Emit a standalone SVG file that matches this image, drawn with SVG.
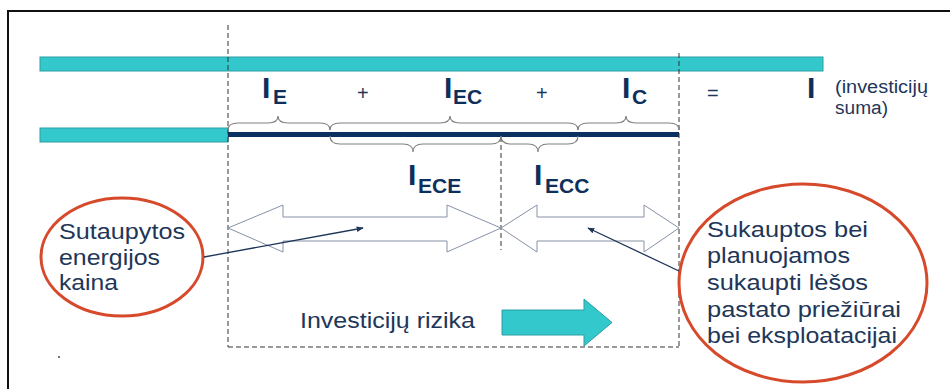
<svg xmlns="http://www.w3.org/2000/svg" width="950" height="389" viewBox="0 0 950 389">
<style>
.bar{fill:#33c8cc;stroke:#2c9ea3;stroke-width:1}
.dash{fill:none;stroke:#333;stroke-width:1;stroke-dasharray:5,3}
.brace{fill:none;stroke:#808080;stroke-width:1.2}
.big{font-family:"Liberation Sans",Arial,sans-serif;font-weight:bold;fill:#0d2f5c}
.body{font-family:"Liberation Sans",Arial,sans-serif;font-size:22px;fill:#1e3658}
.op{font-family:"Liberation Sans",Arial,sans-serif;font-size:20px;fill:#1e3658}
.darrow{fill:#fff;stroke:#8592a6;stroke-width:1}
.ell{fill:#fff;stroke:#d64a2b;stroke-width:3}
.ptr{fill:none;stroke:#1e3658;stroke-width:1.3;marker-end:url(#ah)}
</style>
<defs>
<marker id="ah" viewBox="0 0 10 10" refX="9" refY="5" markerWidth="7" markerHeight="7" markerUnits="userSpaceOnUse" orient="auto">
<path d="M0,1 L10,5 L0,9 Z" fill="#1e3658"/>
</marker>
</defs>
<rect x="0" y="0" width="950" height="389" fill="#fff"/>
<path d="M8,389 V11 H950" fill="none" stroke="#111" stroke-width="2"/>

<g id="bars">
<rect class="bar" x="40" y="57" width="783" height="14"/>
<rect class="bar" x="40" y="128" width="188" height="14"/>
<rect x="228" y="132" width="451" height="5" fill="#0b3160"/>
</g>

<g id="guides">
<line class="dash" x1="228" y1="25" x2="228" y2="347"/>
<line class="dash" x1="679" y1="53" x2="679" y2="347"/>
<line class="dash" x1="501" y1="137" x2="501" y2="250"/>
<line class="dash" x1="228" y1="347" x2="679" y2="347"/>
</g>

<g id="braces">
<path class="brace" d="M228,130 Q228,123 238,123 H268 Q278,123 278,116 Q278,123 288,123 H320 Q330,123 330,130"/>
<path class="brace" d="M330,130 Q330,123 340,123 H440 Q450,123 450,116 Q450,123 460,123 H568 Q578,123 578,130"/>
<path class="brace" d="M578,130 Q578,123 588,123 H616 Q626,123 626,116 Q626,123 636,123 H669 Q679,123 679,130"/>
<path class="brace" d="M330,136 Q330,144 340,144 H403 Q413,144 413,152 Q413,144 423,144 H491 Q501,144 501,136"/>
<path class="brace" d="M501,136 Q501,144 511,144 H528 Q538,144 538,152 Q538,144 548,144 H568 Q578,144 578,136"/>
</g>

<g id="labels">
<text class="big" x="262" y="98" font-size="30">I</text>
<text class="big" x="273" y="104" font-size="21">E</text>
<text class="op" x="357" y="100">+</text>
<text class="big" x="444" y="98" font-size="30">I</text>
<text class="big" x="453" y="104" font-size="21">EC</text>
<text class="op" x="536" y="100">+</text>
<text class="big" x="622" y="98" font-size="30">I</text>
<text class="big" x="632" y="104" font-size="21">C</text>
<text class="op" x="707" y="100">=</text>
<text class="big" x="807" y="98" font-size="30">I</text>
<text class="body" x="835" y="93" font-size="18" style="font-size:18px" textLength="93" lengthAdjust="spacingAndGlyphs">(investicijų</text>
<text class="body" x="835" y="114" style="font-size:18px" textLength="53" lengthAdjust="spacingAndGlyphs">suma)</text>
<text class="big" x="408" y="185" font-size="30">I</text>
<text class="big" x="418" y="193" font-size="21">ECE</text>
<text class="big" x="534" y="185" font-size="30">I</text>
<text class="big" x="545" y="193" font-size="21">ECC</text>
</g>

<g id="arrow-ece">
<polygon class="darrow" points="228,228 283,205 283,217 447,217 447,205 501,228 447,252 447,241 283,241 283,252"/>
</g>
<g id="arrow-ecc">
<polygon class="darrow" points="501,228 537,205 537,217 644,217 644,205 679,228 644,252 644,241 537,241 537,252"/>
</g>

<g id="node-left">
<ellipse class="ell" cx="122" cy="257" rx="81" ry="59"/>
<text class="body" x="59" y="239" textLength="126" lengthAdjust="spacingAndGlyphs">Sutaupytos</text>
<text class="body" x="59" y="265" textLength="101" lengthAdjust="spacingAndGlyphs">energijos</text>
<text class="body" x="59" y="290" textLength="59" lengthAdjust="spacingAndGlyphs">kaina</text>
</g>

<g id="node-right">
<ellipse class="ell" cx="803" cy="283" rx="124" ry="99"/>
<text class="body" x="707" y="237" textLength="161" lengthAdjust="spacingAndGlyphs">Sukauptos bei</text>
<text class="body" x="707" y="263" textLength="143" lengthAdjust="spacingAndGlyphs">planuojamos</text>
<text class="body" x="707" y="290" textLength="161" lengthAdjust="spacingAndGlyphs">sukaupti lėšos</text>
<text class="body" x="707" y="317" textLength="194" lengthAdjust="spacingAndGlyphs">pastato priežiūrai</text>
<text class="body" x="707" y="343" textLength="190" lengthAdjust="spacingAndGlyphs">bei eksploatacijai</text>
</g>

<g id="risk">
<text class="body" x="300" y="328" textLength="175" lengthAdjust="spacingAndGlyphs">Investicijų rizika</text>
<polygon points="502,310 584,310 584,299 612,322.5 584,346 584,335 502,335" fill="#33c8cc" stroke="#2c9ea3" stroke-width="1"/>
</g>

<g id="connectors">
<line class="ptr" x1="204" y1="257" x2="363" y2="228"/>
<line class="ptr" x1="679" y1="271" x2="588" y2="228"/>
</g>

<circle cx="59" cy="357" r="0.9" fill="#333"/>
</svg>
